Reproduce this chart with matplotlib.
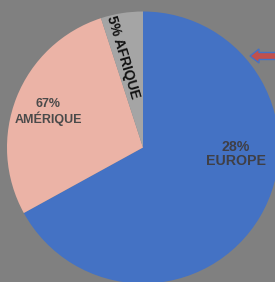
import matplotlib.pyplot as plt
from matplotlib.patches import FancyArrow

# slice data (drawn clockwise from 12 o'clock)
regions = ["EUROPE", "AMÉRIQUE", "AFRIQUE"]
shares = [67, 28, 5]
labels = ["28%\nEUROPE", "67%\nAMÉRIQUE", "5% AFRIQUE"]
colors = ["#4472C4", "#EBB3A6", "#A5A5A5"]

W, H = 275, 282
fig = plt.figure(figsize=(W / 100, H / 100), dpi=100)
fig.patch.set_facecolor("#808080")
ax = fig.add_axes([0, 0, 1, 1])

cx, cy, r = 143, H - 147.5, 136
ax.pie(shares, colors=colors, startangle=90, counterclock=False,
       center=(cx, cy), radius=r, frame=True,
       wedgeprops=dict(linewidth=0))
ax.set_xlim(0, W)
ax.set_ylim(0, H)
ax.set_aspect("equal")
ax.axis("off")

font = ["Liberation Sans", "DejaVu Sans"]
ax.text(236, H - 154, labels[0], ha="center", va="center", fontsize=10.2,
        fontweight="bold", color="#3f3f46", family=font, linespacing=0.95)
ax.text(48, H - 112, labels[1], ha="center", va="center", fontsize=9,
        fontweight="bold", color="#4a4a4a", family=font, linespacing=1.1)
ax.text(123, H - 57, labels[2], ha="center", va="center", fontsize=10,
        fontweight="bold", color="#111111", family=font, rotation=-73.5,
        rotation_mode="anchor")

ax.add_patch(FancyArrow(278, H - 56, -28, 0, width=7, head_width=14,
                        head_length=9, length_includes_head=True,
                        fc="#C0504D", ec="#4472C4", lw=1))

fig.savefig("out.png", dpi=100, facecolor=fig.get_facecolor())
